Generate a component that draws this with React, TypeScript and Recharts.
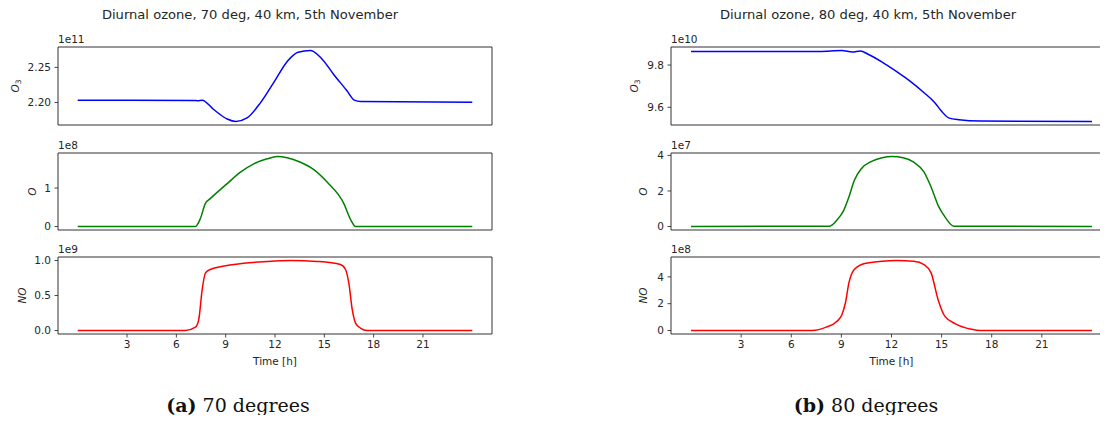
import React from 'react';
import { LineChart, Line, XAxis, YAxis, ReferenceArea } from 'recharts';

// ---------- 70 degrees ----------
const o3Time70 = [0, 7.0, 7.3, 7.57, 8.27, 9.09, 9.62, 10.3, 11.11, 11.92, 12.78, 13.4, 14.15, 14.76, 15.57, 16.39, 16.83, 17.2, 24];
const o3Value70 = [2.2033, 2.203, 2.2026, 2.2033, 2.19, 2.1765, 2.173, 2.178, 2.1995, 2.2284, 2.2596, 2.2717, 2.274, 2.2645, 2.24, 2.2163, 2.2033, 2.2014, 2.2004]; // x1e11

const oTime70 = [0, 7.16, 7.46, 7.76, 8.06, 9.09, 9.9, 10.71, 11.52, 12.13, 12.74, 13.55, 14.36, 15.17, 16.19, 16.6, 16.9, 24];
const oValue70 = [0, 0, 0.207, 0.596, 0.725, 1.114, 1.415, 1.63, 1.76, 1.82, 1.79, 1.67, 1.48, 1.155, 0.596, 0.18, 0, 0]; // x1e8

const noTime70 = [0, 6.55, 7.16, 7.36, 7.57, 7.77, 8.06, 9.5, 11.52, 12.94, 14.56, 15.98, 16.29, 16.49, 16.7, 16.9, 17.2, 17.6, 24];
const noValue70 = [0, 0, 0.048, 0.153, 0.584, 0.824, 0.871, 0.943, 0.986, 1.0, 0.986, 0.943, 0.871, 0.68, 0.297, 0.106, 0.034, 0, 0]; // x1e9

// ---------- 80 degrees ----------
const o3Time80 = [0, 7.67, 9.03, 9.66, 10.14, 10.6, 11.44, 12.27, 13.11, 13.95, 14.57, 15.0, 15.42, 16.04, 17.3, 24];
const o3Value80 = [9.864, 9.864, 9.8686, 9.862, 9.867, 9.851, 9.814, 9.771, 9.724, 9.669, 9.624, 9.581, 9.55, 9.541, 9.535, 9.533]; // x1e10

const oTime80 = [0, 8.3, 8.72, 9.14, 9.45, 9.77, 10.19, 10.81, 11.44, 12.03, 12.7, 13.33, 13.95, 14.37, 14.79, 15.2, 15.73, 24];
const oValue80 = [0, 0.02, 0.35, 0.91, 1.66, 2.59, 3.25, 3.67, 3.87, 3.94, 3.87, 3.62, 3.06, 2.22, 1.19, 0.54, 0.02, 0]; // x1e7

const noTime80 = [0, 7.25, 8.09, 8.72, 9.03, 9.24, 9.45, 9.77, 10.4, 11.44, 12.27, 13.33, 13.95, 14.37, 14.79, 15.2, 15.83, 16.77, 17.3, 24];
const noValue80 = [0, 0, 0.25, 0.67, 1.18, 2.05, 3.55, 4.55, 5.0, 5.17, 5.22, 5.17, 4.92, 4.3, 2.3, 1.05, 0.5, 0.1, 0, 0]; // x1e8

// ---------- ticks & texts ----------
const hourTicks = [3, 6, 9, 12, 15, 18, 21];
const o3Ticks70 = [2.2, 2.25];
const oTicks70 = [0, 1];
const noTicks70 = [0, 0.5, 1.0];
const o3Ticks80 = [9.6, 9.8];
const oTicks80 = [0, 2, 4];
const noTicks80 = [0, 2, 4];

const titles = ['Diurnal ozone, 70 deg, 40 km, 5th November', 'Diurnal ozone, 80 deg, 40 km, 5th November'];
const captionLetters = ['(a)', '(b)'];
const captionTexts = ['70 degrees', '80 degrees'];
const xLabel = 'Time [h]';

const FONT = 'DejaVu Sans, sans-serif';
const TICK_COLOR = '#262626';
const SPINE = '#333';
const MT = 20;
const MR = 2;

type PanelProps = {
  time: number[];
  value: number[];
  ticks: number[];
  decimals: number;
  exponent: string;
  ylabel: React.ReactNode;
  color: string;
  left: number;
  top: number;
  axisW: number;
  plotW: number;
  plotH: number;
  labelOff: number;
  bottom: boolean;
};

function Panel(p: PanelProps) {
  const rows = p.time.map((t, i) => ({ t, v: p.value[i] }));
  const lo0 = Math.min(...p.value);
  const hi0 = Math.max(...p.value);
  const pad = (hi0 - lo0) * 0.05;
  const yDom: [number, number] = [lo0 - pad, hi0 + pad];
  const xDom: [number, number] = [-1.2, 25.2];
  const XH = p.bottom ? 50 : 6;
  const W = p.axisW + p.plotW + MR;
  const H = MT + p.plotH + XH;

  const yLabel = () => {
    const lx = p.axisW - p.labelOff;
    const ly = MT + p.plotH / 2;
    return (
      <g>
        <text x={p.axisW} y={MT - 4} fontSize={10.5} fontFamily={FONT} fill={TICK_COLOR} textAnchor="start">
          {p.exponent}
        </text>
        <text
          x={lx}
          y={ly}
          fontSize={10.5}
          fontFamily={FONT}
          fill={TICK_COLOR}
          textAnchor="middle"
          dominantBaseline="central"
          transform={`rotate(-90, ${lx}, ${ly})`}
        >
          {p.ylabel}
        </text>
      </g>
    );
  };

  const timeLabel = () => (
    <text
      x={p.axisW + p.plotW / 2}
      y={MT + p.plotH + 27}
      fontSize={10.5}
      fontFamily={FONT}
      fill={TICK_COLOR}
      textAnchor="middle"
      dominantBaseline="central"
    >
      {xLabel}
    </text>
  );

  return (
    <div style={{ position: 'absolute', left: p.left, top: p.top - MT }}>
      <LineChart width={W} height={H} data={rows} margin={{ top: MT, right: MR, left: 0, bottom: 0 }}>
        <XAxis
          type="number"
          dataKey="t"
          domain={xDom}
          ticks={hourTicks}
          interval={0}
          height={XH}
          axisLine={false}
          tickLine={{ stroke: SPINE, strokeWidth: 0.9 }}
          tickSize={3.5}
          tickMargin={3.5}
          tick={p.bottom ? { fill: TICK_COLOR, fontSize: 10.5, fontFamily: FONT } : false}
          label={p.bottom ? timeLabel : undefined}
        />
        <YAxis
          type="number"
          dataKey="v"
          domain={yDom}
          ticks={p.ticks}
          interval={0}
          width={p.axisW}
          axisLine={false}
          tickLine={{ stroke: SPINE, strokeWidth: 0.9 }}
          tickSize={3.5}
          tickMargin={3.5}
          tick={{ fill: TICK_COLOR, fontSize: 10.5, fontFamily: FONT }}
          tickFormatter={(v: number) => v.toFixed(p.decimals)}
          label={yLabel}
        />
        <ReferenceArea
          x1={xDom[0]}
          x2={xDom[1]}
          y1={yDom[0]}
          y2={yDom[1]}
          fill="none"
          fillOpacity={0}
          stroke={SPINE}
          strokeWidth={1}
          ifOverflow="visible"
        />
        <Line
          type="monotone"
          dataKey="v"
          stroke={p.color}
          strokeWidth={1.5}
          dot={false}
          isAnimationActive={false}
        />
      </LineChart>
    </div>
  );
}

const O3Label = (
  <>
    <tspan fontStyle="italic">O</tspan>
    <tspan fontSize={7.5} dy={2.5}>3</tspan>
  </>
);
const OLabel = <tspan fontStyle="italic">O</tspan>;
const NOLabel = <tspan fontStyle="italic">NO</tspan>;

export default function App() {
  const rowTops = [47, 153, 257];
  const rowHeights = [78, 77, 77];
  const L = { left: 0, axisW: 58, plotW: 434 };
  const R = { left: 560, axisW: 111, plotW: 441 };
  const capStyle: React.CSSProperties = {
    fontSize: 19,
    fontFamily: "'DejaVu Serif', serif",
    fill: '#111',
  };
  return (
    <div
      style={{
        position: 'relative',
        width: 1108,
        height: 423,
        margin: -8,
        overflow: 'hidden',
        background: '#fff',
      }}
    >
      <svg width={1108} height={423} style={{ position: 'absolute', left: 0, top: 0 }}>
        <text x={250} y={14} fontSize={13.1} fontFamily={FONT} fill={TICK_COLOR} textAnchor="middle" dominantBaseline="central">
          {titles[0]}
        </text>
        <text x={868} y={14} fontSize={13.1} fontFamily={FONT} fill={TICK_COLOR} textAnchor="middle" dominantBaseline="central">
          {titles[1]}
        </text>
        <text x={238} y={412} textAnchor="middle" style={capStyle}>
          <tspan style={{ fontWeight: 'bold' }}>{captionLetters[0]}</tspan> {captionTexts[0]}
        </text>
        <text x={866} y={412} textAnchor="middle" style={capStyle}>
          <tspan style={{ fontWeight: 'bold' }}>{captionLetters[1]}</tspan> {captionTexts[1]}
        </text>
      </svg>

      <Panel time={o3Time70} value={o3Value70} ticks={o3Ticks70} decimals={2} exponent="1e11" ylabel={O3Label} color="#0000ff" top={rowTops[0]} plotH={rowHeights[0]} labelOff={43} bottom={false} {...L} />
      <Panel time={oTime70} value={oValue70} ticks={oTicks70} decimals={0} exponent="1e8" ylabel={OLabel} color="#008000" top={rowTops[1]} plotH={rowHeights[1]} labelOff={26} bottom={false} {...L} />
      <Panel time={noTime70} value={noValue70} ticks={noTicks70} decimals={1} exponent="1e9" ylabel={NOLabel} color="#ff0000" top={rowTops[2]} plotH={rowHeights[2]} labelOff={36} bottom={true} {...L} />

      <Panel time={o3Time80} value={o3Value80} ticks={o3Ticks80} decimals={1} exponent="1e10" ylabel={O3Label} color="#0000ff" top={rowTops[0]} plotH={rowHeights[0]} labelOff={37} bottom={false} {...R} />
      <Panel time={oTime80} value={oValue80} ticks={oTicks80} decimals={0} exponent="1e7" ylabel={OLabel} color="#008000" top={rowTops[1]} plotH={rowHeights[1]} labelOff={28} bottom={false} {...R} />
      <Panel time={noTime80} value={noValue80} ticks={noTicks80} decimals={0} exponent="1e8" ylabel={NOLabel} color="#ff0000" top={rowTops[2]} plotH={rowHeights[2]} labelOff={28} bottom={true} {...R} />
    </div>
  );
}
